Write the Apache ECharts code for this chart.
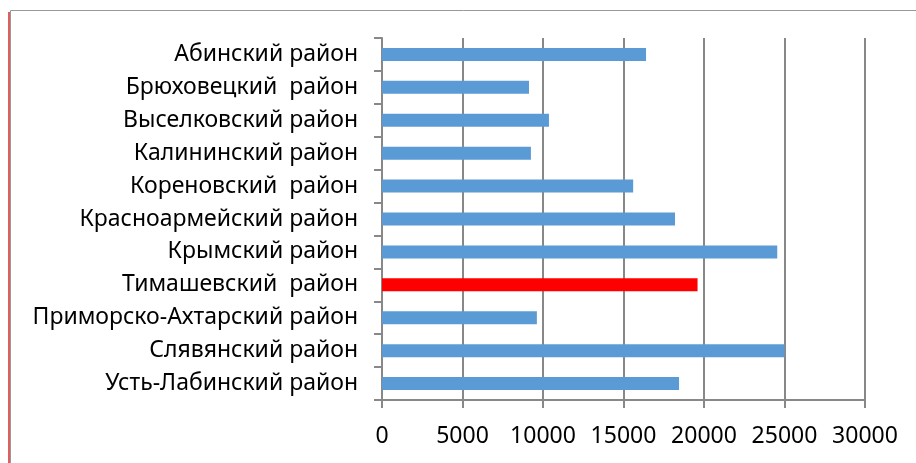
<!DOCTYPE html>
<html>
<head>
<meta charset="utf-8">
<script src="https://cdn.jsdelivr.net/npm/echarts@6/dist/echarts.min.js"></script>
<style>
  html, body { margin: 0; padding: 0; background: #fff; }
  #chart { width: 916px; height: 463px; }
</style>
</head>
<body>
<div id="chart"></div>
<script>
// районы, сверху вниз
const districts = [
  'Абинский район',
  'Брюховецкий  район',
  'Выселковский район',
  'Калининский район',
  'Кореновский  район',
  'Красноармейский район',
  'Крымский район',
  'Тимашевский  район',
  'Приморско-Ахтарский район',
  'Слявянский район',
  'Усть-Лабинский район'
];
const values = [16400, 9130, 10370, 9250, 15600, 18200, 24550, 19600, 9620, 25000, 18450];
const highlighted = 'Тимашевский  район';

const xTicks = { min: 0, max: 30000, interval: 5000 };

const gray = '#888888';
const font = '"Noto Sans", "DejaVu Sans", sans-serif';

const chart = echarts.init(document.getElementById('chart'));

chart.setOption({
  animation: false,
  grid: { left: 382, right: 51, top: 38, bottom: 63, containLabel: false },
  xAxis: {
    type: 'value',
    min: xTicks.min,
    max: xTicks.max,
    interval: xTicks.interval,
    axisLine: { show: true, lineStyle: { color: gray, width: 2 } },
    axisTick: { show: true, length: 8, lineStyle: { color: gray, width: 2 } },
    splitLine: { show: true, lineStyle: { color: gray, width: 2 } },
    axisLabel: {
      color: '#000', fontSize: 23, fontFamily: font, margin: 25,
      formatter: v => String(v)
    }
  },
  yAxis: {
    type: 'category',
    inverse: true,
    data: districts,
    axisLine: { show: true, lineStyle: { color: gray, width: 2 } },
    axisTick: { show: true, length: 8, lineStyle: { color: gray, width: 2 } },
    splitLine: { show: false },
    axisLabel: { color: '#000', fontSize: 23, fontFamily: font, margin: 24 }
  },
  series: [{
    type: 'bar',
    barWidth: 13,
    data: values.map((v, i) => ({
      value: v,
      itemStyle: { color: districts[i] === highlighted ? '#ff0000' : '#5b9bd5' }
    }))
  }],
  graphic: [
    { type: 'line', shape: { x1: 10.5, y1: 10.5, x2: 916, y2: 10.5 }, style: { stroke: '#999', lineWidth: 1 } },
    { type: 'line', shape: { x1: 10.5, y1: 10.5, x2: 10.5, y2: 463 }, style: { stroke: '#999', lineWidth: 1 } },
    { type: 'line', shape: { x1: 9, y1: 12, x2: 9, y2: 463 }, style: { stroke: '#d42a2a', lineWidth: 1.5 } }
  ]
});
</script>
</body>
</html>
